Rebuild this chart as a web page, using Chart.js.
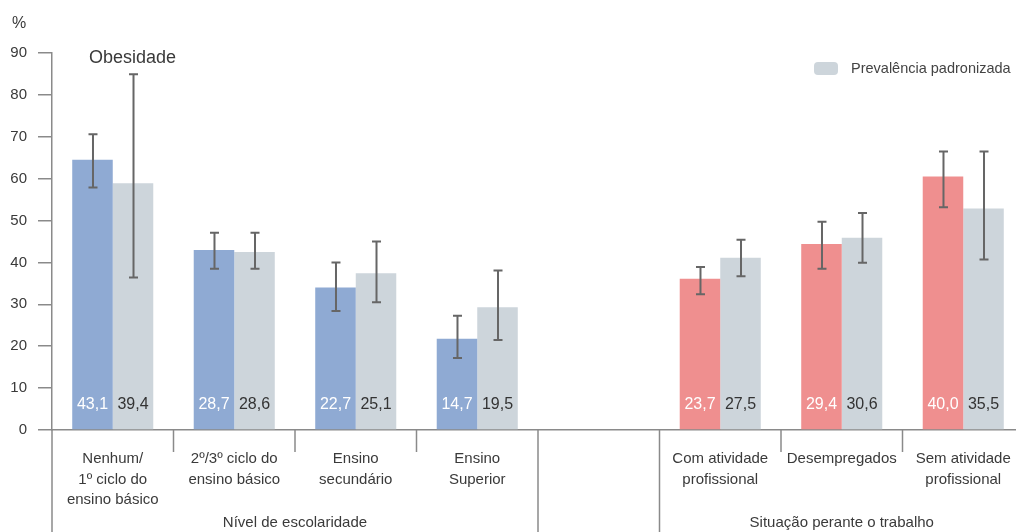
<!doctype html>
<html lang="pt">
<head>
<meta charset="utf-8">
<title>Obesidade</title>
<script src="https://cdn.jsdelivr.net/npm/chart.js"></script>
<style>
  html, body { margin: 0; padding: 0; background: #fff; overflow: hidden; }
  #wrap { width: 1028px; height: 532px; }
</style>
</head>
<body>
<div id="wrap"><canvas id="obesChart" width="1028" height="532"></canvas></div>
<script>
  // categories (index 4 is the empty gap between the two groups)
  var categories = [
    ["Nenhum/", "1º ciclo do", "ensino básico"],
    ["2º/3º ciclo do", "ensino básico"],
    ["Ensino", "secundário"],
    ["Ensino", "Superior"],
    "",
    ["Com atividade", "profissional"],
    "Desempregados",
    ["Sem atividade", "profissional"]
  ];
  var groupNames = ["Nível de escolaridade", "Situação perante o trabalho"];
  var groupStart = [0, 5];
  var groupEnd = [4, 8];

  // bar heights and confidence intervals
  var prevalencia = [64.5, 43.0, 34.0, 21.8, null, 36.1, 44.4, 60.5];
  var prevLow = [57.9, 38.5, 28.4, 17.2, null, 32.4, 38.5, 53.2];
  var prevHigh = [70.6, 47.1, 40.0, 27.3, null, 38.9, 49.7, 66.5];
  var padronizada = [58.9, 42.5, 37.4, 29.3, null, 41.1, 45.9, 52.9];
  var padrLow = [36.4, 38.5, 30.5, 21.5, null, 36.7, 39.9, 40.7];
  var padrHigh = [84.9, 47.1, 45.0, 38.1, null, 45.4, 51.8, 66.5];

  // numbers printed inside the bars
  var prevText = ["43,1", "28,7", "22,7", "14,7", "", "23,7", "29,4", "40,0"];
  var padrText = ["39,4", "28,6", "25,1", "19,5", "", "27,5", "30,6", "35,5"];

  var yMin = 0, yMax = 90, yStep = 10;

  var BLUE = "#8faad3", RED = "#ef8f8f", GREY = "#cdd5db";
  var LINE = "#8a8a8a", TEXT = "#3a3a3a";
  var FONT = "'Liberation Sans', Arial, sans-serif";

  var prevColors = prevalencia.map(function (v, i) { return i < 4 ? BLUE : RED; });

  var overlay = {
    id: "overlay",
    afterDatasetsDraw: function (chart) {
      var ctx = chart.ctx;
      var xs = chart.scales.x, ys = chart.scales.y;
      var step = xs.getPixelForValue(1) - xs.getPixelForValue(0);
      var edge = function (k) { return xs.getPixelForValue(0) - step / 2 + k * step; };
      var base = ys.getPixelForValue(0);

      ctx.save();
      // long separators (axis, group borders) and short category dividers
      ctx.strokeStyle = LINE;
      ctx.lineWidth = 1.5;
      [0, 4, 5].forEach(function (k) {
        ctx.beginPath();
        ctx.moveTo(edge(k), base);
        ctx.lineTo(edge(k), chart.height);
        ctx.stroke();
      });
      [1, 2, 3, 6, 7].forEach(function (k) {
        ctx.beginPath();
        ctx.moveTo(edge(k), base);
        ctx.lineTo(edge(k), base + 22);
        ctx.stroke();
      });

      // error bars
      var errs = [[prevLow, prevHigh], [padrLow, padrHigh]];
      ctx.strokeStyle = "#666";
      ctx.lineWidth = 2;
      chart.data.datasets.forEach(function (ds, di) {
        chart.getDatasetMeta(di).data.forEach(function (bar, i) {
          var lo = errs[di][0][i], hi = errs[di][1][i];
          if (lo == null) return;
          var px = bar.x + 0.5;
          var pl = ys.getPixelForValue(lo), ph = ys.getPixelForValue(hi);
          ctx.beginPath();
          ctx.moveTo(px, pl); ctx.lineTo(px, ph);
          ctx.moveTo(px - 4.5, pl); ctx.lineTo(px + 4.5, pl);
          ctx.moveTo(px - 4.5, ph); ctx.lineTo(px + 4.5, ph);
          ctx.stroke();
        });
      });

      // numbers inside bars
      ctx.font = "16px " + FONT;
      ctx.textAlign = "center";
      ctx.textBaseline = "middle";
      var ty = ys.getPixelForValue(6);
      var texts = [prevText, padrText];
      chart.data.datasets.forEach(function (ds, di) {
        chart.getDatasetMeta(di).data.forEach(function (bar, i) {
          if (!texts[di][i]) return;
          ctx.fillStyle = di === 0 ? "#ffffff" : "#333333";
          ctx.fillText(texts[di][i], bar.x, ty);
        });
      });

      // group titles
      ctx.font = "15px " + FONT;
      ctx.fillStyle = TEXT;
      groupNames.forEach(function (name, g) {
        var cx = (edge(groupStart[g]) + edge(groupEnd[g])) / 2;
        ctx.fillText(name, cx, 523);
      });

      // unit, chart title
      ctx.textAlign = "left";
      ctx.font = "16px " + FONT;
      ctx.fillText("%", 12, 24);
      ctx.font = "18px " + FONT;
      ctx.fillText("Obesidade", 89, 58);

      // legend for the standardised series
      ctx.fillStyle = chart.data.datasets[1].backgroundColor;
      ctx.beginPath();
      ctx.roundRect(814, 62, 24, 13, 4);
      ctx.fill();
      ctx.fillStyle = "#444";
      ctx.font = "14.5px " + FONT;
      ctx.fillText(chart.data.datasets[1].label, 851, 69);
      ctx.restore();
    }
  };

  var ctx = document.getElementById("obesChart").getContext("2d");
  var chart = new Chart(ctx, {
    type: "bar",
    data: {
      labels: categories,
      datasets: [
        {
          label: "Prevalência",
          data: prevalencia,
          backgroundColor: prevColors,
          borderWidth: 0,
          categoryPercentage: 0.667,
          barPercentage: 1
        },
        {
          label: "Prevalência padronizada",
          data: padronizada,
          backgroundColor: GREY,
          borderWidth: 0,
          categoryPercentage: 0.667,
          barPercentage: 1
        }
      ]
    },
    options: {
      responsive: false,
      animation: false,
      layout: { padding: { top: 53, right: 4, left: 0, bottom: 0 } },
      plugins: {
        legend: { display: false },
        tooltip: { enabled: false }
      },
      scales: {
        x: {
          afterFit: function (scale) { scale.height = 102; },
          grid: { display: false },
          border: { display: true, color: LINE, width: 1.5 },
          ticks: {
            color: TEXT,
            padding: 11,
            maxRotation: 0,
            autoSkip: false,
            font: { family: FONT, size: 15, lineHeight: 1.367 }
          }
        },
        y: {
          min: yMin,
          max: yMax,
          afterFit: function (scale) { scale.width = 52; },
          grid: { drawOnChartArea: false, tickLength: 14, color: LINE, lineWidth: 1.5 },
          border: { display: true, color: LINE, width: 1.5 },
          ticks: {
            stepSize: yStep,
            color: TEXT,
            padding: 11,
            font: { family: FONT, size: 15 }
          }
        }
      }
    },
    plugins: [overlay]
  });
</script>
</body>
</html>
